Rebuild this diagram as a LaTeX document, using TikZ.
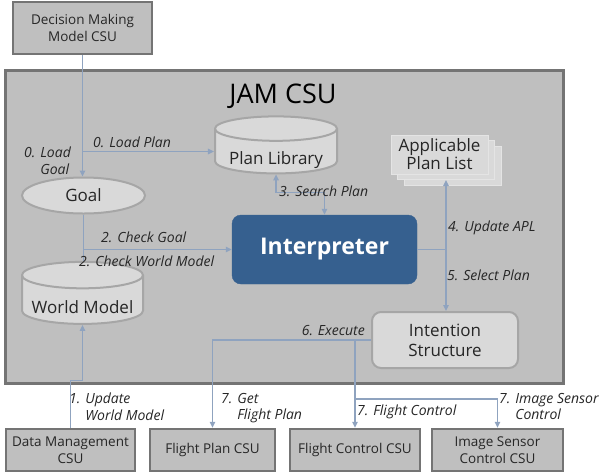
\documentclass[tikz,border=0pt]{standalone}
\usepackage{fontspec}
\setmainfont{Open Sans}
\usetikzlibrary{arrows.meta,positioning,shapes.geometric}
\definecolor{JGray}{HTML}{BFBFBF}
\definecolor{JEdge}{HTML}{747474}
\definecolor{JLight}{HTML}{D9D9D9}
\definecolor{JRim}{HTML}{A6A6A6}
\definecolor{JSheet}{HTML}{E4E4E4}
\definecolor{JBlue}{HTML}{36608F}
\definecolor{JLine}{HTML}{8FA3BF}
\definecolor{JText}{HTML}{262626}
% text in a drum sits below the lid
\newcommand{\drumtext}[1]{\raisebox{-13pt}[0pt][0pt]{#1}}

\begin{document}
\begin{tikzpicture}[x=1pt,y=-1pt,
  every node/.style={text=JText},
  >={Triangle[length=6pt,width=5.5pt]},
  csu/.style={draw=JEdge,line width=2.5pt,fill=JGray,inner sep=0pt,align=center,
    font=\fontsize{13.5}{17}\selectfont},
  store/.style={cylinder,shape border rotate=90,aspect=0.26,draw=JRim,line width=2pt,
    fill=JLight,inner sep=0pt,font=\fontsize{17}{20}\selectfont},
  part/.style={draw=JRim,line width=2pt,fill=JLight,inner sep=0pt,align=center,
    font=\fontsize{17}{20}\selectfont},
  page/.style={draw=JSheet,line width=1pt,fill=JLight,minimum width=97pt,
    minimum height=39pt,inner sep=0pt,align=center,font=\fontsize{17}{18}\selectfont},
  lbl/.style={font=\itshape\fontsize{14}{16.5}\selectfont,inner sep=0pt},
  ln/.style={line width=1.3pt,color=JLine}
]
  \useasboundingbox (0,0) rectangle (605,472);
  \node[csu,minimum width=139pt,minimum height=52pt] (dmm) at (82.5,28) {Decision Making\\Model CSU};
  \node[draw=JEdge,line width=3pt,fill=JGray,minimum width=558pt,minimum height=313pt] (jam) at (284,226.5) {};
  \node[font=\fontsize{27}{30}\selectfont,text=black] (title) at (283,96) {JAM CSU};

  \node[store,minimum width=122pt,minimum height=57pt] (lib) at (276,151.5) {\drumtext{Plan Library}};
  \node[part,ellipse,minimum width=123pt,minimum height=36pt] (goal) at (83.5,195.5) {Goal};
  \node[store,minimum width=121pt,minimum height=62pt] (wm) at (82.5,300) {\drumtext{World Model}};
  \node[draw=JBlue,fill=JBlue,rounded corners=9pt,minimum width=185pt,minimum height=69pt,
    text=white,font=\bfseries\fontsize{23}{26}\selectfont] (int) at (324.5,249.5) {Interpreter};
  \node[page] (apl3) at (452.5,165.5) {};
  \node[page] (apl2) at (446,160) {};
  \node[page] (apl) at (439.5,154.5) {Applicable\\Plan List};
  \node[part,rounded corners=9pt,minimum width=146pt,minimum height=56pt] (intent) at (445,340) {Intention\\Structure};

  \node[csu,minimum width=129pt,minimum height=42pt] (dm) at (70.5,450) {Data Management\\CSU};
  \node[csu,minimum width=125pt,minimum height=42pt] (fp) at (212.5,450) {Flight Plan CSU};
  \node[csu,minimum width=130pt,minimum height=42pt] (fc) at (355,450) {Flight Control CSU};
  \node[csu,minimum width=131pt,minimum height=42pt] (is) at (497.5,450) {Image Sensor\\Control CSU};

  \draw[ln,->] (dmm.south) -- (dmm.south |- goal.north);
  \draw[ln,->] (dmm.south |- lib.west) -- (lib.west);
  \draw[ln] (goal.south) -- (goal.south |- wm.north);
  \draw[ln,->] (goal.south |- int.west) -- (int.west);
  \draw[ln,<->] (lib.south) -- ++(0,18) -| (int.north);
  \coordinate (sel) at (446,249.5);
  \draw[ln] (int.east) -- (sel);
  \draw[ln,->] (sel) -- (sel |- apl2.south);
  \draw[ln,->] (sel) -- (sel |- intent.north);
  \draw[ln,->] (intent.west) -| (fp.north);
  \draw[ln,->] (intent.west -| fc.north) -- (fc.north);
  \coordinate (fork) at (355,399);
  \draw[ln,->] (fork) -| (is.north);
  \draw[ln,->] (dm.north) -- ++(0,-47) -| (wm.south);

  \node[lbl,anchor=west] (l0p) at (93,142) {0. Load Plan};
  \node[lbl,align=left,anchor=north west] (l0g) at (24,147) {0. Load\\\phantom{0. }Goal};
  \node[lbl,anchor=west] (l3) at (279,191) {3. Search Plan};
  \node[lbl,anchor=west] (l2g) at (101,237) {2. Check Goal};
  \node[lbl,anchor=west] (l2w) at (79,261) {2. Check World Model};
  \node[lbl,anchor=west] (l4) at (448,228) {4. Update APL};
  \node[lbl,anchor=west] (l5) at (447,275) {5. Select Plan};
  \node[lbl,anchor=east] (l6) at (365,331) {6. Execute};
  \node[lbl,align=left,anchor=north west] (l1) at (69,393) {1. Update\\\phantom{1. }World Model};
  \node[lbl,align=left,anchor=north west] (l7a) at (221,393) {7. Get\\\phantom{7. }Flight Plan};
  \node[lbl,anchor=west] (l7b) at (357,412) {7. Flight Control};
  \node[lbl,align=left,anchor=north west] (l7c) at (499,393) {7. Image Sensor\\\phantom{7. }Control};
\end{tikzpicture}
\end{document}
